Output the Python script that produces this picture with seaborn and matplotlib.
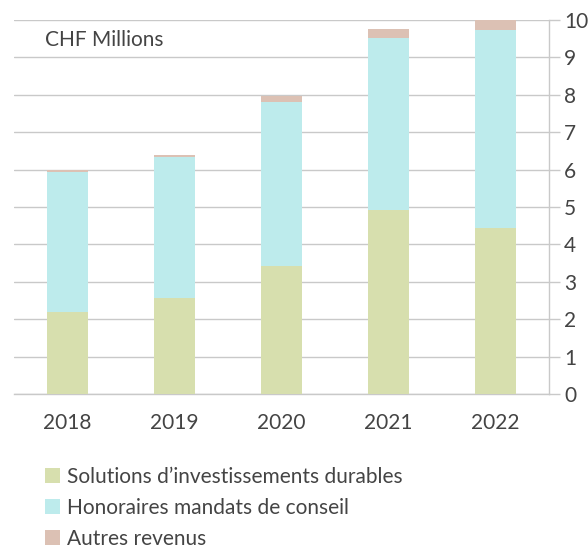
import matplotlib
matplotlib.use('Agg')
import matplotlib.pyplot as plt
from matplotlib.patches import Patch
import seaborn as sns
import pandas as pd
import numpy as np

years = ['2018', '2019', '2020', '2021', '2022']
solutions = [2.20, 2.57, 3.43, 4.91, 4.45]
honoraires = [3.74, 3.76, 4.39, 4.62, 5.28]
autres = [0.05, 0.06, 0.15, 0.22, 0.27]

series_names = ['Solutions d\u2019investissements durables',
                'Honoraires mandats de conseil',
                'Autres revenus']
colors = ['#d7dfae', '#bdebec', '#dcc1b4']
text_color = '#444444'
grid_color = '#c9c9c9'

sns.set_theme(style='white')
plt.rcParams['font.family'] = ['Lato', 'DejaVu Sans']

df = pd.DataFrame({'Year': years,
                   'Solutions': solutions,
                   'Honoraires': honoraires,
                   'Autres': autres})
# cumulative tops for stacking
df['top1'] = df['Solutions']
df['top2'] = df['top1'] + df['Honoraires']
df['top3'] = df['top2'] + df['Autres']

fig = plt.figure(figsize=(5.88, 5.51), dpi=100)
ax = fig.add_axes([14 / 588, 1 - 394 / 551, (549 - 14) / 588, (394 - 20) / 551])

# draw from the top layer down so lower layers cover upper ones
for col, color in zip(['top3', 'top2', 'top1'], colors[::-1]):
    sns.barplot(data=df, x='Year', y=col, color=color, width=0.375,
                saturation=1, ax=ax, zorder=3, linewidth=0)

ax.set_ylim(0, 10)
ax.set_xlim(-0.5, len(years) - 0.5)
ax.set_xlabel('')
ax.set_ylabel('')

ax.yaxis.tick_right()
ax.set_yticks(np.arange(0, 11, 1))
ax.grid(axis='y', color=grid_color, linewidth=1, zorder=0)
ax.grid(axis='x', visible=False)

# x ticks at category boundaries, labels centred on bars
ax.set_xticks(np.arange(-0.5, len(years), 1))
ax.set_xticklabels([])
ax.set_xticks(np.arange(len(years)), labels=years, minor=True)
ax.tick_params(axis='x', which='major', length=8, width=1, color=grid_color, direction='out')
ax.tick_params(axis='x', which='minor', length=0, pad=14, labelsize=15, labelcolor=text_color)
ax.tick_params(axis='y', length=8, width=1, color=grid_color, direction='out',
               pad=3, labelsize=15, labelcolor=text_color, right=True, left=False)

for side in ['top', 'left']:
    ax.spines[side].set_visible(False)
for side in ['bottom', 'right']:
    ax.spines[side].set_color(grid_color)
    ax.spines[side].set_linewidth(1)

ax.text(45 / 588, 1 - 40 / 551, 'CHF Millions', transform=fig.transFigure,
        fontsize=15, color=text_color, va='center', ha='left')

handles = [Patch(facecolor=c, edgecolor='none') for c in colors]
fig.legend(handles, series_names, loc='upper left', bbox_to_anchor=(45 / 588, 1 - 467 / 551),
           frameon=False, fontsize=15, labelcolor=text_color, handlelength=0.72,
           handleheight=0.72, handletextpad=0.34, labelspacing=0.52, borderaxespad=0,
           borderpad=0)

fig.savefig('out.png', dpi=100)
